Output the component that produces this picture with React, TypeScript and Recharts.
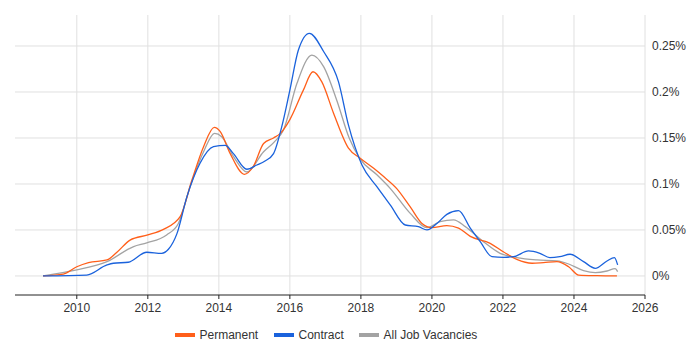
import React from 'react';
import { LineChart, Line, XAxis, YAxis, CartesianGrid, Legend } from 'recharts';

const xTicks = [2010, 2012, 2014, 2016, 2018, 2020, 2022, 2024, 2026];
const yTicks = [0, 0.05, 0.1, 0.15, 0.2, 0.25];

const permYears = [2009.05, 2009.62, 2010.0, 2010.33, 2010.85, 2011.13, 2011.5, 2012.0, 2012.44, 2012.91, 2013.24, 2013.57, 2013.87, 2014.04, 2014.32, 2014.72, 2014.97, 2015.26, 2015.54, 2015.73, 2016.0, 2016.38, 2016.65, 2016.9, 2017.23, 2017.65, 2017.98, 2018.36, 2018.64, 2019.01, 2019.39, 2019.72, 2020.0, 2020.42, 2020.75, 2021.08, 2021.64, 2022.02, 2022.39, 2022.82, 2023.14, 2023.52, 2023.85, 2024.13, 2024.65, 2025.21];
const permValues = [0, 0.002, 0.010, 0.0145, 0.0174, 0.0258, 0.039, 0.0446, 0.0507, 0.0645, 0.104, 0.1405, 0.1616, 0.157, 0.133, 0.1105, 0.119, 0.144, 0.150, 0.155, 0.170, 0.202, 0.222, 0.211, 0.177, 0.139, 0.128, 0.117, 0.108, 0.095, 0.075, 0.057, 0.0525, 0.0547, 0.052, 0.043, 0.0355, 0.026, 0.018, 0.0138, 0.0145, 0.0156, 0.010, 0.001, 0.0003, 0];

const contYears = [2009.05, 2010.28, 2010.85, 2011.03, 2011.45, 2011.97, 2012.39, 2012.58, 2012.82, 2013.1, 2013.47, 2013.85, 2014.18, 2014.41, 2014.79, 2015.07, 2015.3, 2015.54, 2015.77, 2016.0, 2016.24, 2016.55, 2016.95, 2017.37, 2017.65, 2018.03, 2018.45, 2018.83, 2019.25, 2019.62, 2019.86, 2020.14, 2020.42, 2020.75, 2021.08, 2021.36, 2021.69, 2022.02, 2022.3, 2022.72, 2023.04, 2023.32, 2023.6, 2023.89, 2024.27, 2024.6, 2024.93, 2025.14, 2025.23];
const contValues = [0, 0.001, 0.012, 0.0138, 0.0149, 0.0258, 0.0246, 0.029, 0.046, 0.086, 0.1225, 0.1405, 0.142, 0.133, 0.116, 0.1206, 0.125, 0.133, 0.162, 0.202, 0.2457, 0.2638, 0.244, 0.211, 0.164, 0.1206, 0.097, 0.077, 0.0554, 0.0536, 0.05, 0.057, 0.067, 0.071, 0.052, 0.0373, 0.021, 0.0203, 0.021, 0.0272, 0.0246, 0.020, 0.021, 0.0236, 0.0156, 0.0083, 0.0163, 0.020, 0.012];

const allYears = [2009.05, 2010.0, 2010.85, 2011.6, 2011.97, 2012.53, 2012.86, 2013.19, 2013.57, 2013.88, 2014.08, 2014.41, 2014.79, 2015.26, 2015.57, 2015.82, 2016.2, 2016.62, 2016.95, 2017.32, 2017.67, 2017.98, 2018.45, 2018.83, 2019.39, 2019.86, 2020.23, 2020.61, 2020.94, 2021.45, 2021.92, 2022.39, 2022.96, 2023.52, 2023.85, 2024.27, 2024.6, 2024.93, 2025.16, 2025.23];
const allValues = [0, 0.0065, 0.0156, 0.032, 0.036, 0.0446, 0.057, 0.097, 0.135, 0.155, 0.1514, 0.130, 0.113, 0.135, 0.146, 0.1587, 0.2095, 0.240, 0.2275, 0.191, 0.150, 0.127, 0.110, 0.095, 0.068, 0.0525, 0.059, 0.061, 0.0536, 0.0373, 0.0246, 0.020, 0.0174, 0.0163, 0.013, 0.0058, 0.0036, 0.0054, 0.008, 0.0047];

const seriesNames = ['Permanent', 'Contract', 'All Job Vacancies'];
const seriesColors = ['#ff5f1a', '#1a62dc', '#a3a3a3'];
const legendLabelWidths = [63, 49, 102];

const toPoints = (xs: number[], ys: number[]) => xs.map((x, i) => ({ x, v: ys[i] }));

const permData = toPoints(permYears, permValues);
const contData = toPoints(contYears, contValues);
const allData = toPoints(allYears, allValues);

const font = '"Liberation Sans", Arial, sans-serif';

const renderLegend = () => (
  <div style={{ display: 'flex', justifyContent: 'center', alignItems: 'center', height: 30, fontFamily: font, fontSize: 12, color: '#333' }}>
    {seriesNames.map((n, i) => (
      <div key={n} style={{ display: 'flex', alignItems: 'center', marginLeft: i === 0 ? 0 : 11 }}>
        <span style={{ display: 'inline-block', width: 20, height: 4, background: seriesColors[i], marginRight: 5 }} />
        <span style={{ display: 'inline-block', width: legendLabelWidths[i], whiteSpace: 'nowrap' }}>{n}</span>
      </div>
    ))}
  </div>
);

export default function App() {
  return (
    <div style={{ position: 'absolute', left: 0, top: 0, width: 700, height: 350, background: '#fff' }}>
      <LineChart width={700} height={350} margin={{ top: 15, right: 0, left: 15, bottom: 0 }}>
        <CartesianGrid stroke="#e0e0e0" horizontalValues={yTicks} verticalValues={xTicks} />
        <XAxis
          type="number"
          dataKey="x"
          domain={[2008.26, 2026]}
          ticks={xTicks}
          allowDataOverflow
          height={25}
          stroke="#222"
          tickSize={4}
          tickMargin={4}
          tick={{ fill: '#333', fontSize: 12, fontFamily: font }}
        />
        <YAxis
          type="number"
          orientation="right"
          domain={[-0.0207, 0.2837]}
          ticks={yTicks}
          allowDataOverflow
          width={55}
          axisLine={false}
          tickLine={false}
          tickMargin={1}
          tickFormatter={(v: number) => `${Number(v.toFixed(2))}%`}
          tick={{ fill: '#333', fontSize: 12, fontFamily: font, textAnchor: 'start' }}
        />
        <Legend verticalAlign="bottom" height={30} content={renderLegend} wrapperStyle={{ left: 15, width: 630 }} />
        <Line data={allData} dataKey="v" name={seriesNames[2]} type="monotone" stroke={seriesColors[2]} strokeWidth={1.3} dot={false} isAnimationActive={false} />
        <Line data={permData} dataKey="v" name={seriesNames[0]} type="monotone" stroke={seriesColors[0]} strokeWidth={1.3} dot={false} isAnimationActive={false} />
        <Line data={contData} dataKey="v" name={seriesNames[1]} type="monotone" stroke={seriesColors[1]} strokeWidth={1.3} dot={false} isAnimationActive={false} />
      </LineChart>
    </div>
  );
}
